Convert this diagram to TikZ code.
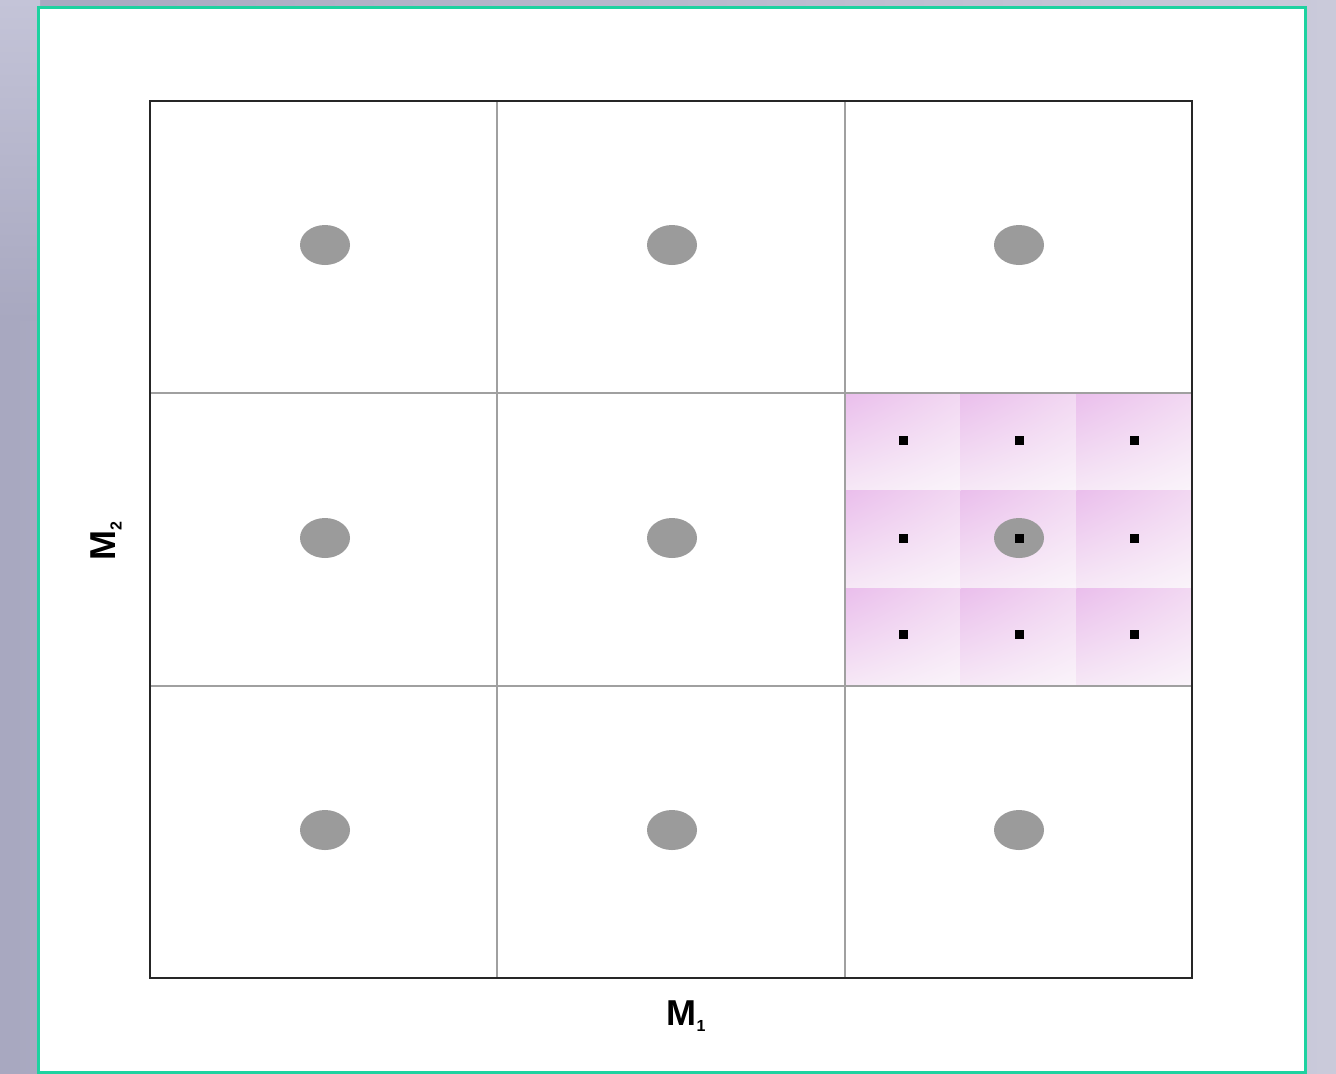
\documentclass[tikz,border=0pt]{standalone}
\usepackage{fontspec}
\setmainfont{Liberation Sans}
\usetikzlibrary{shapes.geometric,shadings}
\definecolor{bgL}{RGB}{168,168,192}
\definecolor{bgLt}{RGB}{196,196,216}
\definecolor{bgR}{RGB}{202,202,218}
\definecolor{teal2}{RGB}{30,210,160}
\definecolor{pinkA}{RGB}{234,190,236}
\definecolor{pinkB}{RGB}{242,216,242}
\definecolor{pinkC}{RGB}{246,232,246}
\definecolor{pinkD}{RGB}{250,244,250}
\definecolor{gridgray}{RGB}{160,160,160}
\definecolor{dotgray}{RGB}{155,155,155}
\tikzset{
  blob/.style={ellipse, fill=dotgray, minimum width=25pt, minimum height=20pt, inner sep=0pt},
  sq/.style={rectangle, fill=black, minimum size=4.5pt, inner sep=0pt},
  axislabel/.style={font=\bfseries\fontsize{18}{20}\selectfont},
  subcell/.style={upper left=pinkA, upper right=pinkB, lower left=pinkC, lower right=pinkD}
}
\newcommand{\lowsub}[1]{\raisebox{-0.35ex}{\fontsize{8}{10}\selectfont #1}}
\begin{document}
\begin{tikzpicture}[x=0.5pt,y=-0.5pt]
\useasboundingbox (0,0) rectangle (1336,1073);
% background
\shade[left color=bgL, right color=bgR] (0,0) rectangle (1336,1073);
\shade[top color=bgLt, bottom color=bgL] (0,0) rectangle (40,320);
% panel
\fill[white] (38,7) rectangle (1305,1072);
\draw[teal2, line width=1.5pt] (38,7) rectangle (1305,1072);
% pink subcells
\foreach \i in {0,1,2}{
  \foreach \j in {0,1,2}{
    \shade[subcell] ({845+\i*115.67},{393+\j*97.67}) rectangle ({845+(\i+1)*115.67},{393+(\j+1)*97.67});
  }
}
% grid lines
\draw[gridgray, line width=1.1pt] (497,101) -- (497,978) (845,101) -- (845,978)
  (150,393) -- (1192,393) (150,686) -- (1192,686);
\draw[black!85, line width=1.2pt] (150,101) rectangle (1192,978);
% blobs
\foreach \cx [count=\ci] in {325,672,1019}{
  \foreach \cy [count=\ri] in {245,538,830}{
    \node[blob] (b\ci\ri) at (\cx,\cy) {};
  }
}
% small squares
\foreach \sx [count=\si] in {903,1019,1134}{
  \foreach \sy [count=\sj] in {440,538,634}{
    \node[sq] (s\si\sj) at (\sx,\sy) {};
  }
}
% labels
\node[axislabel] (m1) at (686,1016) {M\lowsub{1}};
\node[axislabel, rotate=90] (m2) at (106,541) {M\lowsub{2}};
\end{tikzpicture}
\end{document}
